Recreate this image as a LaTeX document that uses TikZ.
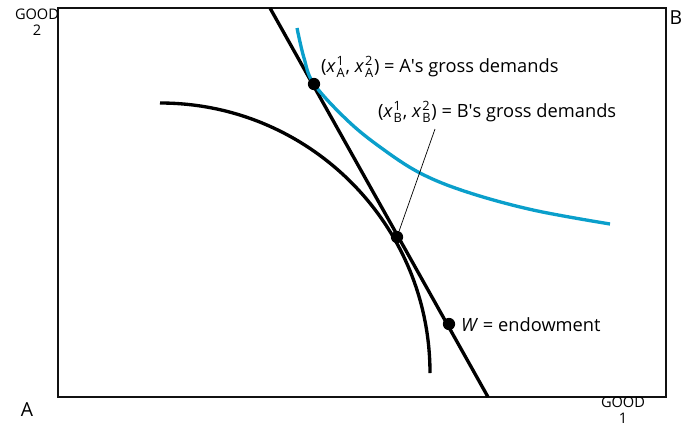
\documentclass[tikz,border=0pt]{standalone}
\usepackage{amsmath}
\usepackage{fontspec}
\setmainfont{Open Sans}
\usetikzlibrary{calc}
\definecolor{curveblue}{HTML}{0A9FCB}
\definecolor{boxdark}{HTML}{111111}

\newcommand{\xab}[2]{$\textit{x\kern0.8pt}^{\text{#1}}_{\text{#2}}$}

\begin{document}
\begin{tikzpicture}[
    x=0.02cm, y=-0.02cm,
    curve/.style={line width=1.9pt},
    frame/.style={line width=1.1pt, boxdark},
    dot/.style={circle, fill=black, inner sep=0pt, minimum size=7pt},
    lab/.style={font=\fontsize{10.4}{12}\selectfont, inner sep=1pt},
    axislab/.style={font=\fontsize{8.3}{9}\selectfont, align=center, inner sep=0pt},
    corner/.style={font=\fontsize{11}{12}\selectfont, inner sep=0pt}
]
\useasboundingbox (0,0) rectangle (684,427);

% 1. Edgeworth box
\draw[frame] (58,8) rectangle (666,397);

% 2. Corner and axis labels
\node[axislab] (good2) at (37,22) {GOOD\\2};
\node[axislab] (good1) at (623,410) {GOOD\\1};
\node[corner] (cornerA) at (27,410) {A};
\node[corner] (cornerB) at (676,18) {B};

% 3. Budget line
\coordinate (ltop) at (270,8);
\coordinate (lbot) at (488,397);
\draw[curve] (ltop) -- (lbot);

% 4. Indifference curves
\draw[curve, curveblue] plot[smooth, tension=0.6] coordinates
    {(297,28) (304,58) (314,84) (347,120) (380,147) (420,173) (467,192) (533,210) (610,224)};
\draw[curve] (160,103) arc (-90:0:270);

% 5. Points on the budget line
\node[dot] (dA) at (314,84) {};
\node[dot] (dB) at (397,237) {};
\node[dot] (dW) at (449,324) {};

% 6. Labels
\node[lab, anchor=west] (labA) at (319,67) {(\xab{1}{A}, \xab{2}{A}) = A\textquotesingle s gross demands};
\node[lab, anchor=west] (labB) at (376,112) {(\xab{1}{B}, \xab{2}{B}) = B\textquotesingle s gross demands};
\node[lab, anchor=west] (labW) at (459,325) {\textit{W} = endowment};

% leader from label to B's point
\coordinate (lead) at (435,129);
\draw[line width=0.4pt] (lead) -- (dB);

\end{tikzpicture}
\end{document}
